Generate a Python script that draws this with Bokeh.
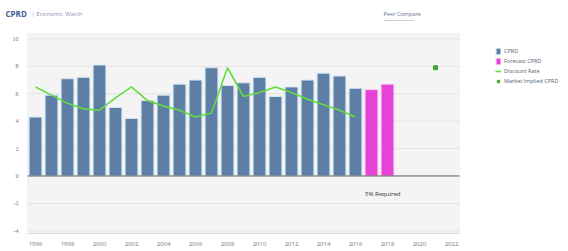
from bokeh.plotting import figure
from bokeh.models import (Range1d, Label, Legend, LegendItem, ColumnDataSource,
                          FixedTicker, BoxAnnotation)
from bokeh.embed import file_html
from bokeh.resources import INLINE

# ---- data ----
years = list(range(1996, 2017))
cprd = [4.3, 5.9, 7.1, 7.2, 8.1, 5.0, 4.2, 5.5, 5.9, 6.7, 7.0,
        7.9, 6.6, 6.8, 7.2, 5.8, 6.5, 7.0, 7.5, 7.3, 6.4]
discount_rate = [6.5, 5.9, 5.3, 4.9, 4.8, 5.7, 6.5, 5.5, 5.1, 4.8, 4.3,
                 4.6, 7.9, 5.8, 6.1, 6.5, 6.1, 5.6, 5.2, 4.8, 4.3]
forecast_years = [2017, 2018]
forecast_cprd = [6.3, 6.7]
implied_years = [2021]
implied_cprd = [7.9]
x_ticks = list(range(1996, 2023, 2))
y_ticks = [-4, -2, 0, 2, 4, 6, 8, 10]
y_tick_labels = [str(v) for v in y_ticks]

# ---- layout constants (chart box inside a full-canvas frame) ----
FW, FH = 566, 233            # frame covers the canvas except the bottom axis
PX_PER_YEAR = 16.0
X_LO, X_HI = 1995.5, 2022.5  # chart box
Y_LO, Y_HI = -4.2, 10.4
CHART_LEFT_PX, CHART_TOP_PX = 27, 33
PX_PER_UNIT = 200.0 / (Y_HI - Y_LO)

x_start = X_LO - CHART_LEFT_PX / PX_PER_YEAR
x_end = x_start + FW / PX_PER_YEAR
y_end = Y_HI + CHART_TOP_PX / PX_PER_UNIT

p = figure(frame_width=FW, frame_height=FH, output_backend="svg", toolbar_location=None,
           x_range=Range1d(x_start, x_end), y_range=Range1d(Y_LO, y_end),
           min_border_left=0, min_border_top=0, min_border_right=0,
           min_border_bottom=14, background_fill_color="white",
           border_fill_color="white")
p.outline_line_color = None
p.xgrid.grid_line_color = None
p.ygrid.grid_line_color = None
p.yaxis.visible = False

p.xaxis.axis_line_color = None
p.xaxis.major_tick_line_color = None
p.xaxis.minor_tick_line_color = None
p.xaxis.major_label_text_font_size = "6px"
p.xaxis.major_label_text_color = "#777777"
p.xaxis.major_label_text_font = "Open Sans"
p.xaxis.ticker = FixedTicker(ticks=x_ticks)
p.xaxis.major_label_standoff = 2

# chart box
p.add_layout(BoxAnnotation(left=X_LO, right=X_HI, bottom=Y_LO, top=Y_HI,
                           fill_color="#f4f4f4", fill_alpha=1, line_color="#e0e0e0",
                           line_width=1, level="underlay"))
# grid lines and y tick labels
p.segment(x0=X_LO, x1=X_HI, y0=y_ticks, y1=y_ticks, line_color="#e3e3e3", line_width=1)
p.text(x=X_LO, y=y_ticks, text=y_tick_labels, x_offset=-9, text_align="right",
       text_baseline="middle", text_font_size="6px", text_color="#777777",
       text_font="Open Sans")
# bottom axis line
p.segment(x0=X_LO, x1=X_HI, y0=Y_LO, y1=Y_LO, line_color="#bbbbbb", line_width=1)

src = ColumnDataSource(dict(x=years, top=cprd, dr=discount_rate))
fsrc = ColumnDataSource(dict(x=forecast_years, top=forecast_cprd))
isrc = ColumnDataSource(dict(x=implied_years, y=implied_cprd))

r_bar = p.vbar(x="x", top="top", width=0.8, source=src, fill_color="#5d7ea5",
               line_color="#d3e4f3", line_width=1)
r_fc = p.vbar(x="x", top="top", width=0.8, source=fsrc, fill_color="#e642d8",
              line_color="#f6c6ef", line_width=1)
r_dr = p.line(x="x", y="dr", source=src, line_color="#62dc3f", line_width=1.6)
r_im = p.scatter(x="x", y="y", source=isrc, marker="square", size=4,
                 fill_color="#3aa832", line_color="#3aa832")

# zero line
p.segment(x0=X_LO, x1=X_HI, y0=0, y1=0, line_color="#666666", line_width=1)

p.add_layout(Label(x=2016.6, y=-1.3, text="5% Required", text_font_size="6px",
                   text_color="#333333", text_baseline="middle", text_font="Open Sans"))

# header texts (screen units measured from the frame's bottom-left)
p.add_layout(Label(x=5, y=FH - 13, x_units="screen", y_units="screen", text="CPRD",
                   text_font_size="8px", text_font_style="bold", text_color="#3d5d98",
                   text_baseline="middle", text_font="Open Sans"))
p.add_layout(Label(x=31, y=FH - 13, x_units="screen", y_units="screen",
                   text="| Economic Watch", text_font_size="6px", text_color="#8795aa",
                   text_baseline="middle", text_font="Open Sans"))
p.add_layout(Label(x=383, y=FH - 13, x_units="screen", y_units="screen",
                   text="Peer Compare", text_font_size="5.6px", text_color="#5d6f8f",
                   text_baseline="middle", text_font="Open Sans"))
p.add_layout(Label(x=383, y=FH - 17, x_units="screen", y_units="screen",
                   text="______________", text_font_size="5px", text_color="#5d6f8f",
                   text_baseline="middle", text_font="Open Sans"))

legend = Legend(items=[LegendItem(label="CPRD", renderers=[r_bar]),
                       LegendItem(label="Forecast CPRD", renderers=[r_fc]),
                       LegendItem(label="Discount Rate", renderers=[r_dr]),
                       LegendItem(label="Market Implied CPRD", renderers=[r_im])],
                location=(495, FH - 85), background_fill_alpha=0,
                border_line_color=None, label_text_font_size="5.5px",
                label_text_color="#556070", label_text_font="Open Sans",
                glyph_width=6, glyph_height=8, label_height=8, spacing=2,
                padding=0, margin=0, label_standoff=3)
p.add_layout(legend)

open("out.html", "w").write(file_html(p, INLINE))
